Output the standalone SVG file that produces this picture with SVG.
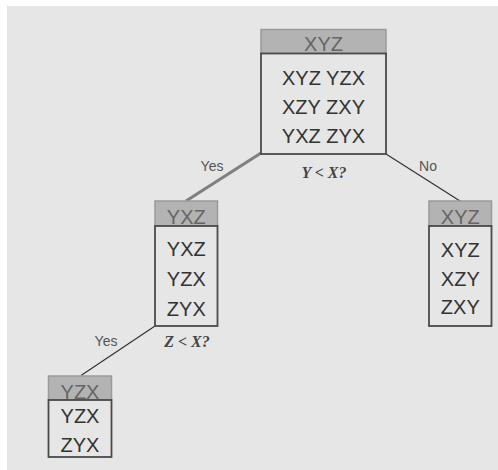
<svg xmlns="http://www.w3.org/2000/svg" width="498" height="470" viewBox="0 0 498 470">
<style>
.hdr{fill:#b3b3b3;stroke:#9a9a9a;stroke-width:1.5}
.body{fill:#e6e6e6;stroke:#4a4a4a;stroke-width:1.8}
.ht{font-family:"Liberation Sans",Arial,sans-serif;font-size:20px;fill:#666;text-anchor:middle}
.t{font-family:"Liberation Sans",Arial,sans-serif;font-size:20px;fill:#333;text-anchor:middle}
.lbl{font-family:"Liberation Sans",Arial,sans-serif;font-size:14px;fill:#555;text-anchor:middle}
.q{font-family:"Liberation Serif","Times New Roman",serif;font-size:16px;font-style:italic;font-weight:bold;fill:#444;text-anchor:middle}
.e{stroke:#333;stroke-width:1.2;fill:none}
.eh{stroke:#808080;stroke-width:3.2;fill:none}
</style>
<rect x="0" y="0" width="498" height="470" fill="#ffffff"/>
<rect x="7" y="6" width="491" height="464" fill="#e6e6e6"/>
<g id="connectors">
<line class="eh" x1="261" y1="153" x2="186" y2="201"/>
<line class="e" x1="386" y1="154" x2="460" y2="201"/>
<line class="e" x1="155" y1="326" x2="81" y2="375.5"/>
<text class="lbl" x="212" y="170.5">Yes</text>
<text class="lbl" x="428" y="171">No</text>
<text class="lbl" x="106" y="345.5">Yes</text>
</g>
<g id="node-root">
<rect class="hdr" x="261" y="29.5" width="125" height="24"/>
<rect class="body" x="261" y="53.5" width="125" height="100.5"/>
<text class="ht" x="323.5" y="50.5">XYZ</text>
<text class="t" x="323.5" y="85">XYZ YZX</text>
<text class="t" x="323.5" y="114">XZY ZXY</text>
<text class="t" x="323.5" y="143">YXZ ZYX</text>
<text class="q" x="324" y="178">Y &lt; X?</text>
</g>
<g id="node-yxz">
<rect class="hdr" x="155" y="201" width="62.5" height="25"/>
<rect class="body" x="155" y="226" width="62.5" height="100"/>
<text class="ht" x="186.3" y="224">YXZ</text>
<text class="t" x="186.3" y="256">YXZ</text>
<text class="t" x="186.3" y="286">YZX</text>
<text class="t" x="186.3" y="316">ZYX</text>
<text class="q" x="187" y="346.5">Z &lt; X?</text>
</g>
<g id="node-xyz">
<rect class="hdr" x="429" y="201" width="62.5" height="25"/>
<rect class="body" x="429" y="226" width="62.5" height="100"/>
<text class="ht" x="460.3" y="224">XYZ</text>
<text class="t" x="460.3" y="256.5">XYZ</text>
<text class="t" x="460.3" y="285.5">XZY</text>
<text class="t" x="460.3" y="313.5">ZXY</text>
</g>
<g id="node-yzx">
<rect class="hdr" x="48.5" y="376" width="63" height="24"/>
<rect class="body" x="48.5" y="400" width="63" height="57"/>
<text class="ht" x="80" y="398.5">YZX</text>
<text class="t" x="80" y="422.5">YZX</text>
<text class="t" x="80" y="451.5">ZYX</text>
</g>
</svg>
